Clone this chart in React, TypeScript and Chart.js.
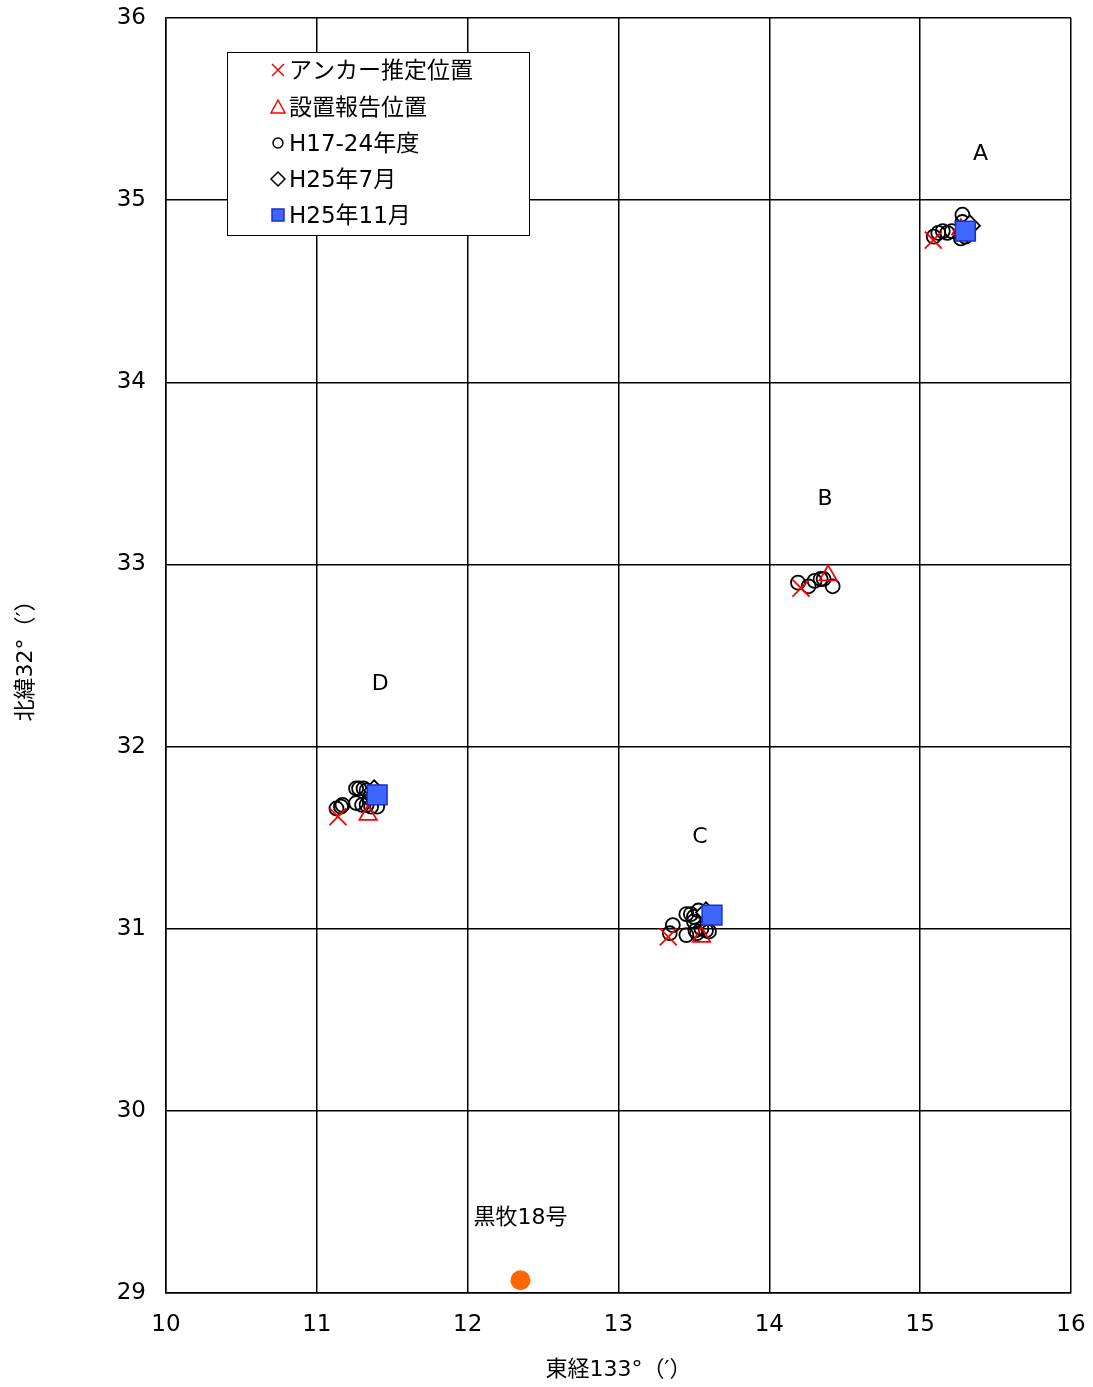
import React, { useEffect, useRef } from "react";
import { Chart, registerables } from "chart.js";

Chart.register(...registerables);

const FONT = "'DejaVu Sans', 'Noto Sans CJK JP', sans-serif";

const xTicks = [10, 11, 12, 13, 14, 15, 16];
const yTicks = [29, 30, 31, 32, 33, 34, 35, 36];

const legendLabels = ["アンカー推定位置", "設置報告位置", "H17-24年度", "H25年7月", "H25年11月"];

const anchorEst: [number, number][] = [
  [15.087, 34.78],
  [14.21, 32.87],
  [13.33, 30.955],
  [11.14, 31.615],
];

const reported: [number, number][] = [
  [15.27, 34.84],
  [14.39, 32.94],
  [13.55, 30.955],
  [11.34, 31.625],
];

const h17to24: [number, number][] = [
  [15.09, 34.8], [15.12, 34.82], [15.15, 34.83], [15.18, 34.82], [15.21, 34.83],
  [15.28, 34.92], [15.28, 34.88], [15.27, 34.79], [15.3, 34.8],
  [14.19, 32.9], [14.26, 32.88], [14.3, 32.91], [14.34, 32.92], [14.36, 32.92], [14.42, 32.88],
  [13.34, 30.975], [13.36, 31.02], [13.45, 31.08], [13.48, 31.08], [13.5, 31.065],
  [13.5, 31.04], [13.45, 30.965], [13.51, 30.99], [13.52, 30.975], [13.55, 31.0],
  [13.58, 30.99], [13.6, 30.985], [13.53, 31.1],
  [11.13, 31.66], [11.16, 31.67], [11.17, 31.68], [11.26, 31.77], [11.28, 31.77],
  [11.31, 31.77], [11.33, 31.76], [11.26, 31.69], [11.3, 31.68], [11.33, 31.68],
  [11.36, 31.67], [11.4, 31.67], [11.35, 31.72],
];

const h25jul: [number, number][] = [
  [15.33, 34.86],
  [13.58, 31.09],
  [11.38, 31.76],
];

const h25nov: [number, number][] = [
  [15.3, 34.83],
  [13.62, 31.075],
  [11.4, 31.735],
];

const kuromaki: [number, number][] = [[12.35, 29.07]];

const pointLabels: { text: string; x: number; y: number }[] = [
  { text: "A", x: 15.4, y: 35.25 },
  { text: "B", x: 14.37, y: 33.36 },
  { text: "C", x: 13.54, y: 31.5 },
  { text: "D", x: 11.42, y: 32.34 },
  { text: "黒牧18号", x: 12.35, y: 29.41 },
];

const toXY = (arr: [number, number][]) => arr.map(([x, y]) => ({ x, y }));

function drawMarker(ctx: CanvasRenderingContext2D, kind: number, x: number, y: number) {
  ctx.save();
  ctx.lineWidth = 1.5;
  ctx.beginPath();
  if (kind === 0) {
    ctx.strokeStyle = "#ff0000";
    const s = 6;
    ctx.moveTo(x - s, y - s); ctx.lineTo(x + s, y + s);
    ctx.moveTo(x + s, y - s); ctx.lineTo(x - s, y + s);
    ctx.stroke();
  } else if (kind === 1) {
    ctx.strokeStyle = "#ff0000";
    ctx.moveTo(x, y - 7); ctx.lineTo(x + 7, y + 6); ctx.lineTo(x - 7, y + 6); ctx.closePath();
    ctx.stroke();
  } else if (kind === 2) {
    ctx.strokeStyle = "#000";
    ctx.arc(x, y, 5, 0, Math.PI * 2);
    ctx.stroke();
  } else if (kind === 3) {
    ctx.strokeStyle = "#000";
    ctx.moveTo(x, y - 7); ctx.lineTo(x + 7, y); ctx.lineTo(x, y + 7); ctx.lineTo(x - 7, y); ctx.closePath();
    ctx.stroke();
  } else {
    ctx.fillStyle = "#3d67ff";
    ctx.strokeStyle = "#1a2fd0";
    ctx.rect(x - 6, y - 6, 12, 12);
    ctx.fill();
    ctx.stroke();
  }
  ctx.restore();
}

const overlayPlugin = {
  id: "overlay",
  afterDatasetsDraw(chart: any) {
    const ctx = chart.ctx as CanvasRenderingContext2D;
    const xs = chart.scales.x;
    const ys = chart.scales.y;
    ctx.save();
    ctx.fillStyle = "#000";
    ctx.font = `22px ${FONT}`;
    ctx.textAlign = "center";
    ctx.textBaseline = "middle";
    pointLabels.forEach((l) => {
      ctx.fillText(l.text, xs.getPixelForValue(l.x), ys.getPixelForValue(l.y));
    });
    // legend
    const bx = 227, by = 52, bw = 302, bh = 183;
    ctx.fillStyle = "#fff";
    ctx.fillRect(bx, by, bw, bh);
    ctx.strokeStyle = "#000";
    ctx.lineWidth = 1;
    ctx.strokeRect(bx + 0.5, by + 0.5, bw, bh);
    ctx.textAlign = "left";
    ctx.fillStyle = "#000";
    ctx.font = `23px ${FONT}`;
    const rows = [70, 107, 143, 179, 215];
    legendLabels.forEach((t, i) => {
      drawMarker(ctx, i, 278, rows[i]);
      ctx.fillText(t, 289, rows[i] + 2);
    });
    ctx.restore();
  },
};

export default function App() {
  const ref = useRef<HTMLCanvasElement | null>(null);
  useEffect(() => {
    if (!ref.current) return;
    const chart = new Chart(ref.current, {
      type: "scatter",
      data: {
        datasets: [
          {
            label: legendLabels[4],
            data: toXY(h25nov),
            pointStyle: "rect",
            pointRadius: 14,
            backgroundColor: "#3d67ff",
            borderColor: "#1a2fd0",
            borderWidth: 1.5,
            order: 0,
          },
          {
            label: legendLabels[0],
            data: toXY(anchorEst),
            pointStyle: "crossRot",
            pointRadius: 12,
            borderColor: "#ff0000",
            backgroundColor: "#ff0000",
            borderWidth: 1.8,
            order: 1,
          },
          {
            label: legendLabels[1],
            data: toXY(reported),
            pointStyle: "triangle",
            pointRadius: 10,
            borderColor: "#ff0000",
            backgroundColor: "rgba(0,0,0,0)",
            borderWidth: 1.8,
            order: 2,
          },
          {
            label: legendLabels[3],
            data: toXY(h25jul),
            pointStyle: "rectRot",
            pointRadius: 10,
            borderColor: "#000",
            backgroundColor: "#fff",
            borderWidth: 1.8,
            order: 3,
          },
          {
            label: legendLabels[2],
            data: toXY(h17to24),
            pointStyle: "circle",
            pointRadius: 7,
            borderColor: "#000",
            backgroundColor: "rgba(0,0,0,0)",
            borderWidth: 1.8,
            order: 4,
          },
          {
            label: "黒牧18号",
            data: toXY(kuromaki),
            pointStyle: "circle",
            pointRadius: 10,
            borderColor: "#ff6600",
            backgroundColor: "#ff6600",
            borderWidth: 0,
            order: 5,
          },
        ],
      },
      options: {
        animation: false,
        responsive: false,
        maintainAspectRatio: false,
        layout: { padding: { left: 0, top: 18, right: 22, bottom: 0 } },
        plugins: { legend: { display: false }, tooltip: { enabled: false } },
        scales: {
          x: {
            type: "linear",
            min: 10,
            max: 16,
            afterFit: (s: any) => { s.height = 94; s.paddingLeft = 0; s.paddingRight = 0; },
            afterBuildTicks: (s: any) => { s.ticks = xTicks.map((v) => ({ value: v })); },
            ticks: { color: "#000", font: { family: FONT, size: 23 }, padding: 18 },
            grid: { color: "#000", lineWidth: 1.5, drawTicks: false },
            border: { color: "#000", width: 1.5 },
            title: {
              display: true,
              text: "東経133°（′）",
              color: "#000",
              font: { family: FONT, size: 22 },
              padding: { top: 0, bottom: 4 },
            },
          },
          y: {
            type: "linear",
            min: 29,
            max: 36,
            afterFit: (s: any) => { s.width = 166; s.paddingTop = 0; s.paddingBottom = 0; },
            afterBuildTicks: (s: any) => { s.ticks = yTicks.map((v) => ({ value: v })); },
            ticks: { color: "#000", font: { family: FONT, size: 23 }, padding: 20 },
            grid: { color: "#000", lineWidth: 1.5, drawTicks: false },
            border: { color: "#000", width: 1.5 },
            title: {
              display: true,
              text: "北緯32°（′）",
              color: "#000",
              font: { family: FONT, size: 22 },
              padding: { top: 13, bottom: 0 },
            },
          },
        },
      },
      plugins: [overlayPlugin],
    });
    return () => chart.destroy();
  }, []);
  return (
    <div style={{ position: "absolute", left: 0, top: 0, width: 1093, height: 1387, background: "#fff" }}>
      <canvas ref={ref} width={1093} height={1387} style={{ width: 1093, height: 1387 }} />
    </div>
  );
}
